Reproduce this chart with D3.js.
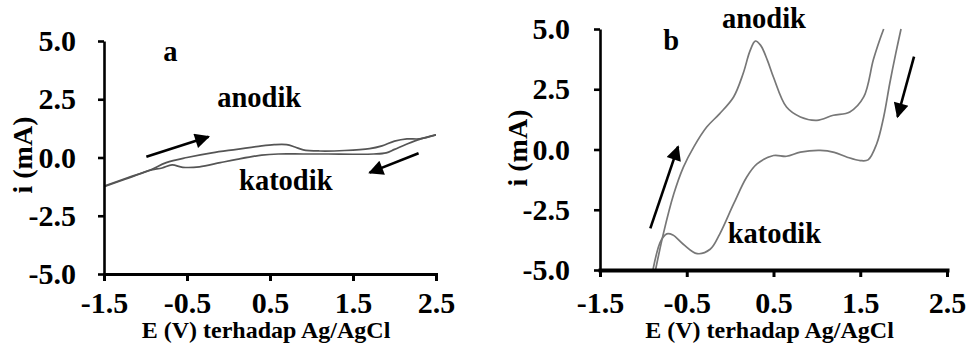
<!DOCTYPE html>
<html>
<head>
<meta charset="utf-8">
<script src="https://cdn.jsdelivr.net/npm/d3@7"></script>
<style>
  html, body { margin: 0; padding: 0; background: #fff; }
  svg { display: block; }
  text { font-family: "Liberation Serif", "Times New Roman", serif; font-weight: bold; fill: #000; }
</style>
</head>
<body>
<div id="chart"></div>
<script>
// axis ticks (shared by both panels)
const xTickValues = [-1.5, -0.5, 0.5, 1.5, 2.5];
const xTickLabels = ["-1.5", "-0.5", "0.5", "1.5", "2.5"];
const yTickValues = [-5, -2.5, 0, 2.5, 5];
const yTickLabels = ["-5.0", "-2.5", "0.0", "2.5", "5.0"];
const xTitle = "E (V) terhadap Ag/AgCl";
const yTitle = "i (mA)";

// panel a : anodic (forward) and cathodic (reverse) scans
const aForwardE = [-1.5, -1.2, -0.95, -0.75, -0.5, -0.2, 0.1, 0.4, 0.55, 0.7, 0.8, 0.9, 1.1, 1.4, 1.7, 1.85, 2.0, 2.15, 2.3, 2.5];
const aForwardI = [-1.23, -0.85, -0.55, -0.22, 0.0, 0.2, 0.35, 0.5, 0.55, 0.55, 0.45, 0.33, 0.28, 0.3, 0.38, 0.5, 0.7, 0.8, 0.8, 0.97];
const aReverseE = [2.5, 2.3, 2.15, 2.0, 1.9, 1.75, 1.5, 1.2, 0.9, 0.6, 0.4, 0.1, -0.1, -0.35, -0.55, -0.68, -0.8, -0.95, -1.2, -1.5];
const aReverseI = [0.97, 0.78, 0.58, 0.35, 0.2, 0.15, 0.14, 0.15, 0.15, 0.15, 0.1, -0.08, -0.22, -0.4, -0.42, -0.32, -0.45, -0.55, -0.88, -1.25];

// panel b
const bForwardE = [-0.86, -0.77, -0.65, -0.54, -0.42, -0.27, -0.12, 0.04, 0.15, 0.23, 0.29, 0.35, 0.43, 0.5, 0.65, 0.81, 1.0, 1.19, 1.38, 1.54, 1.65, 1.72, 1.77];
const bForwardI = [-5.0, -3.5, -1.85, -0.74, 0.1, 0.93, 1.49, 2.18, 3.15, 4.1, 4.5, 4.33, 3.7, 3.0, 1.76, 1.35, 1.21, 1.42, 1.56, 2.18, 3.71, 4.5, 5.0];
const bReverseE = [1.97, 1.91, 1.84, 1.77, 1.69, 1.59, 1.5, 1.35, 1.2, 1.04, 0.81, 0.65, 0.5, 0.31, 0.19, 0.04, -0.12, -0.23, -0.38, -0.54, -0.66, -0.73, -0.8, -0.89];
const bReverseI = [5.0, 4.0, 2.74, 1.35, 0.24, -0.43, -0.46, -0.32, -0.12, -0.04, -0.11, -0.28, -0.25, -0.6, -1.15, -2.26, -3.51, -4.14, -4.32, -3.93, -3.55, -3.5, -3.8, -5.0];

// annotations (data units)
const aLabels = [{t: "a", e: -0.70, i: 4.14}, {t: "anodik", e: 0.37, i: 2.17}, {t: "katodik", e: 0.69, i: -1.39}];
const aArrows = [{e0: -0.99, i0: 0.03, e1: -0.24, i1: 0.89}, {e0: 2.29, i0: 0.18, e1: 1.70, i1: -0.65}];
const bLabels = [{t: "b", e: -0.68, i: 4.13}, {t: "anodik", e: 0.39, i: 5.04}, {t: "katodik", e: 0.51, i: -3.88}];
const bArrows = [{e0: -0.92, i0: -3.27, e1: -0.60, i1: 0.12}, {e0: 2.12, i0: 3.85, e1: 1.93, i1: 1.36}];

const width = 968, height = 364;

const svg = d3.select("#chart").append("svg")
    .attr("width", width)
    .attr("height", height);

svg.append("rect").attr("width", width).attr("height", height).attr("fill", "#fff");

// arrow head
svg.append("defs").append("marker")
    .attr("id", "head")
    .attr("viewBox", "0 0 10 10")
    .attr("refX", 9).attr("refY", 5)
    .attr("markerUnits", "userSpaceOnUse")
    .attr("markerWidth", 18).attr("markerHeight", 15)
    .attr("orient", "auto")
    .append("path")
    .attr("d", "M0,0 L10,5 L0,10 Z")
    .attr("fill", "#000");

function drawPanel(p) {
    const x = d3.scaleLinear().domain([-1.5, 2.5]).range(p.xRange);
    const y = d3.scaleLinear().domain([-5, 5]).range(p.yRange);
    const g = svg.append("g");

    // clip the scans to the plotting area
    g.append("clipPath").attr("id", p.id + "-clip")
        .append("rect")
        .attr("x", p.xRange[0]).attr("y", p.yRange[1] - 1)
        .attr("width", p.xRange[1] - p.xRange[0])
        .attr("height", p.yRange[0] - p.yRange[1] + 1);

    const line = d3.line()
        .x(d => x(d[0]))
        .y(d => y(d[1]))
        .curve(d3.curveCatmullRom.alpha(0.5));

    const scans = [d3.zip(p.forwardE, p.forwardI), d3.zip(p.reverseE, p.reverseI)];
    g.append("g").attr("clip-path", `url(#${p.id}-clip)`)
        .selectAll("path")
        .data(scans)
        .join("path")
        .attr("d", line)
        .attr("fill", "none")
        .attr("stroke", p.curveColor)
        .attr("stroke-width", 1.7);

    // y axis
    const yAxis = g.append("g")
        .attr("transform", `translate(${p.xRange[0]},0)`)
        .call(d3.axisLeft(y).tickValues(yTickValues).tickFormat((d, i) => yTickLabels[i])
            .tickSize(6).tickSizeOuter(0).tickPadding(p.yTickPad));
    yAxis.select(".domain").attr("stroke-width", 2.6);
    yAxis.selectAll(".tick line").attr("stroke-width", 2.6);
    yAxis.selectAll("text").attr("font-size", 30).attr("font-family", null);

    // x axis
    const xAxis = g.append("g")
        .attr("transform", `translate(0,${p.yRange[0]})`)
        .call(d3.axisBottom(x).tickValues(xTickValues).tickFormat((d, i) => xTickLabels[i])
            .tickSize(7).tickSizeOuter(0).tickPadding(p.xTickPad));
    xAxis.select(".domain").attr("stroke-width", p.xAxisWidth).attr("stroke-linecap", "square");
    xAxis.selectAll(".tick line").attr("stroke-width", 3);
    xAxis.selectAll("text").attr("font-size", 30).attr("font-family", null);
    g.selectAll(".domain, .tick line").attr("stroke", "#000");

    // axis titles
    g.append("text")
        .attr("x", (p.xRange[0] + p.xRange[1]) / 2 - 4)
        .attr("y", p.titleY)
        .attr("text-anchor", "middle")
        .attr("font-size", 24)
        .text(xTitle);
    g.append("text")
        .attr("transform", `translate(${p.yTitleX},${p.yTitleY}) rotate(-90)`)
        .attr("text-anchor", "middle")
        .attr("font-size", 28)
        .text(yTitle);

    // labels
    g.selectAll(".note")
        .data(p.labels)
        .join("text")
        .attr("class", "note")
        .attr("x", d => x(d.e))
        .attr("y", d => y(d.i))
        .attr("text-anchor", "middle")
        .attr("font-size", 28.5)
        .text(d => d.t);

    // scan direction arrows
    g.selectAll(".arrow")
        .data(p.arrows)
        .join("line")
        .attr("class", "arrow")
        .attr("x1", d => x(d.e0)).attr("y1", d => y(d.i0))
        .attr("x2", d => x(d.e1)).attr("y2", d => y(d.i1))
        .attr("stroke", "#000")
        .attr("stroke-width", 2.6)
        .attr("marker-end", "url(#head)");
}

drawPanel({
    id: "a", xRange: [104, 436], yRange: [274, 41],
    forwardE: aForwardE, forwardI: aForwardI, reverseE: aReverseE, reverseI: aReverseI,
    labels: aLabels, arrows: aArrows, curveColor: "#555",
    yTickPad: 22, xTickPad: 11, xAxisWidth: 3,
    titleY: 338, yTitleX: 32, yTitleY: 155
});

drawPanel({
    id: "b", xRange: [600, 947], yRange: [270, 29],
    forwardE: bForwardE, forwardI: bForwardI, reverseE: bReverseE, reverseI: bReverseI,
    labels: bLabels, arrows: bArrows, curveColor: "#777",
    yTickPad: 24, xTickPad: 15, xAxisWidth: 4,
    titleY: 338, yTitleX: 527, yTitleY: 148
});
</script>
</body>
</html>
